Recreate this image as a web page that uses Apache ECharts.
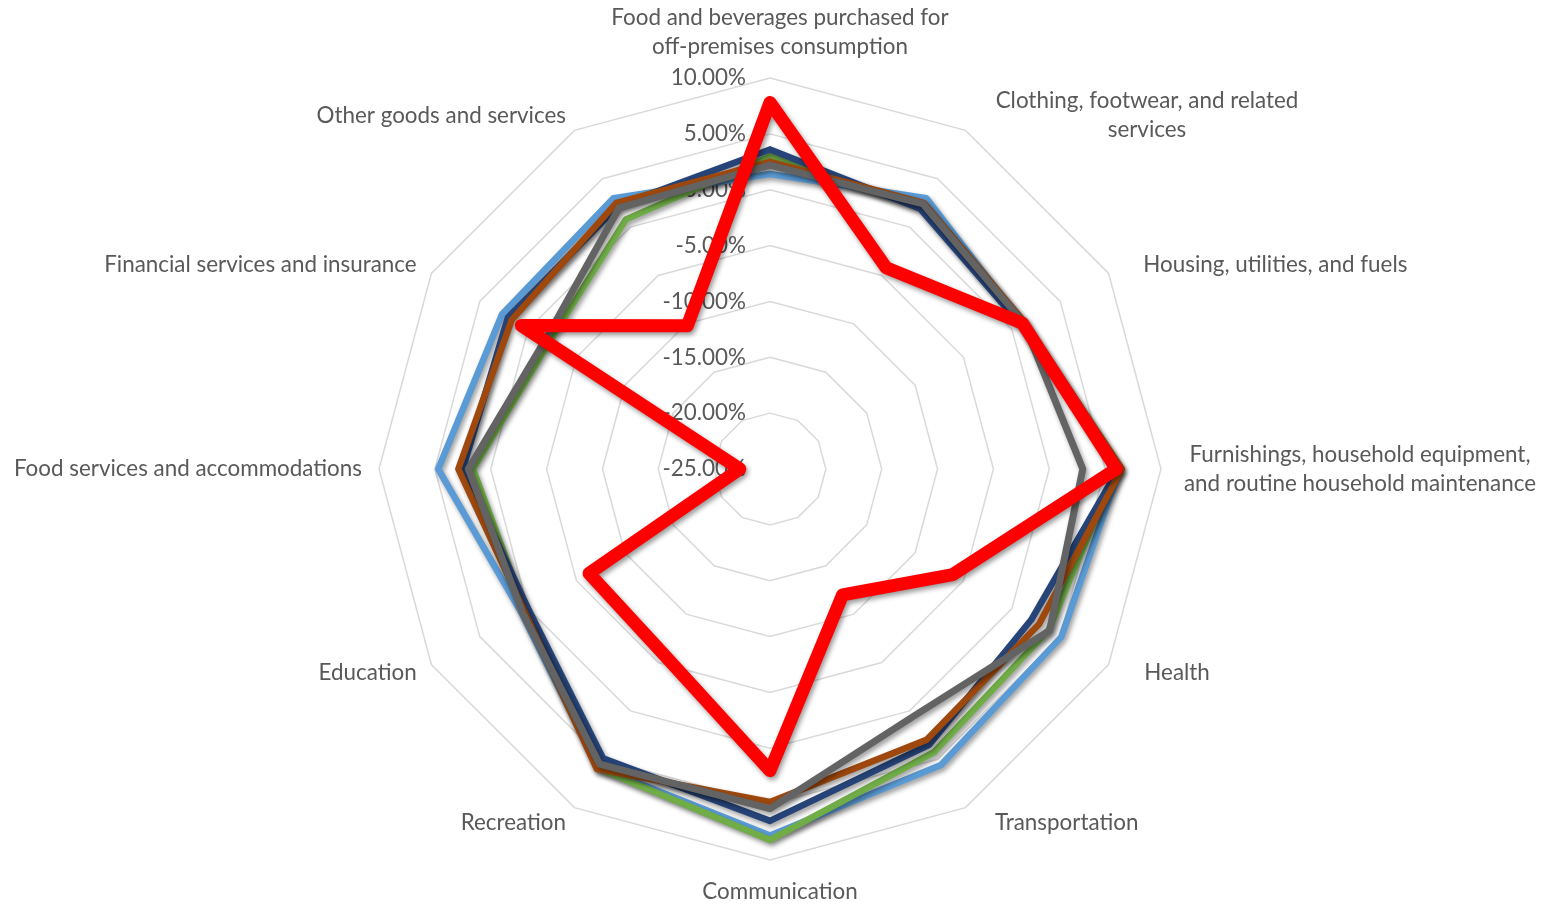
<!DOCTYPE html>
<html><head><meta charset="utf-8">
<script src="https://cdn.jsdelivr.net/npm/echarts@6/dist/echarts.min.js"></script>
<style>html,body{margin:0;padding:0;background:#fff}#c{width:1547px;height:908px}</style>
</head><body><div id="c"></div>
<script>
const categories = [
  'Food and beverages purchased for\noff-premises consumption',
  'Clothing, footwear, and related\nservices',
  'Housing, utilities, and fuels',
  'Furnishings, household equipment,\nand routine household maintenance',
  'Health',
  'Transportation',
  'Communication',
  'Recreation',
  'Education',
  'Food services and accommodations',
  'Financial services and insurance',
  'Other goods and services'
];
const axisMin = -25, axisMax = 10;
const tickLabels = ['-25.00%','-20.00%','-15.00%','-10.00%','-5.00%','0.00%','5.00%','10.00%'];

const seriesLightBlue = [1.4, 3.0, 1.1, 6.3, 5.1, 5.6, 7.8, 5.8, 0.7, 4.7, 2.7, 3.0];
const seriesGreen     = [3.0, 2.1, 1.1, 6.0, 3.8, 4.3, 8.2, 5.9, 0.3, 1.6, -2.2, 0.8];
const seriesDarkBlue  = [3.6, 1.9, 0.9, 6.2, 2.0, 3.5, 6.5, 4.9, 0.0, 2.5, 2.1, 2.2];
const seriesOrange    = [2.5, 2.5, 1.3, 6.5, 2.8, 3.0, 4.8, 6.0, 0.4, 2.9, 1.7, 2.5];
const seriesGray      = [2.2, 2.4, 1.2, 3.0, 3.9, 0.6, 5.4, 5.5, 0.6, 2.0, -1.8, 2.0];
const seriesRed       = [7.8, -4.2, 1.1, 6.0, -6.1, -12.0, 2.0, -5.9, -6.3, -22.3, 0.7, -10.2];

// ECharts lays indicators counter-clockwise; the reference runs clockwise from the top.
const order = [0, 11, 10, 9, 8, 7, 6, 5, 4, 3, 2, 1];
const namePadLeft = {0: 20, 1: 21, 2: 20, 3: 3, 4: 21, 5: 21, 6: 20};
const richKey = {1: 'c1', 3: 'c3'};

const FONT = 'Lato';
const FS = 22.4;
const TXT = '#595959';

const indicator = order.map(function (ci, k) {
  const ind = { name: categories[ci], min: axisMin, max: axisMax };
  if (namePadLeft[ci] != null) ind.nameTextStyle = { padding: [0, 0, 0, namePadLeft[ci]] };
  if (k === 0) {
    ind.axisLabel = {
      show: true, color: TXT, fontFamily: FONT, fontSize: FS, margin: 24,
      formatter: function (v) { return tickLabels[Math.round((v - axisMin) / 5)]; }
    };
  }
  return ind;
});

const defs = [
  { name: 'S1', color: '#5B9BD5', data: seriesLightBlue, width: 6.5 },
  { name: 'S2', color: '#70AD47', data: seriesGreen, width: 6.5 },
  { name: 'S3', color: '#264478', data: seriesDarkBlue, width: 6.5 },
  { name: 'S4', color: '#9E480E', data: seriesOrange, width: 6.5 },
  { name: 'S5', color: '#636363', data: seriesGray, width: 7 },
  { name: 'S6', color: '#FF0000', data: seriesRed, width: 13 }
];

const chart = echarts.init(document.getElementById('c'), null, { renderer: 'canvas' });
chart.setOption({
  animation: false,
  backgroundColor: '#ffffff',
  radar: {
    center: [770, 469],
    radius: 391,
    startAngle: 90,
    shape: 'polygon',
    splitNumber: 7,
    indicator: indicator,
    axisNameGap: 17,
    axisName: {
      color: TXT, fontFamily: FONT, fontSize: FS, lineHeight: 29,
      formatter: function (name) {
        const ci = categories.indexOf(name);
        const key = richKey[ci];
        if (!key) return name;
        return name.split('\n').map(function (l) { return '{' + key + '|' + l + '}'; }).join('\n');
      },
      rich: {
        c1: { width: 304, align: 'center', color: TXT, fontFamily: FONT, fontSize: FS, lineHeight: 29 },
        c3: { width: 358, align: 'center', color: TXT, fontFamily: FONT, fontSize: FS, lineHeight: 29 }
      }
    },
    axisLine: { show: false },
    axisTick: { show: false },
    axisLabel: { show: false },
    splitArea: { show: false },
    splitLine: { lineStyle: { color: '#D9D9D9', width: 1.5 } }
  },
  series: defs.map(function (d, i) {
    return {
      type: 'radar', name: d.name, symbol: 'none', z: 2 + i,
      data: [{ value: order.map(function (ci) { return d.data[ci]; }), name: d.name }],
      itemStyle: { color: d.color },
      lineStyle: {
        color: d.color, width: d.width, cap: 'round', join: 'round',
        shadowColor: 'rgba(0,0,0,0.4)', shadowBlur: 5, shadowOffsetX: 2, shadowOffsetY: 3
      },
      areaStyle: null
    };
  })
});
</script></body></html>
